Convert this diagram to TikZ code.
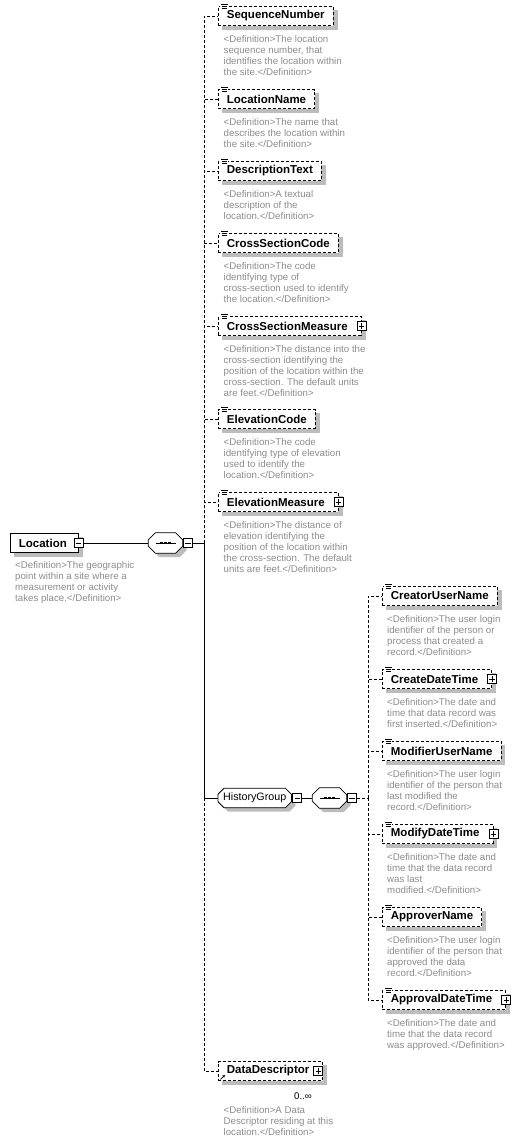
\documentclass[tikz,border=0pt]{standalone}
\usepackage{fontspec}
\setmainfont{Liberation Sans}
\usetikzlibrary{positioning,arrows.meta,backgrounds}
\definecolor{defgray}{RGB}{140,140,140}
\definecolor{shadowgray}{RGB}{188,188,188}
% octagon round a node: node, chamfer, x offset, y offset
\newcommand\octa[4]{([xshift=#3+#2,yshift=#4]#1.north west) -- ([xshift=#3-#2,yshift=#4]#1.north east)
-- ([xshift=#3,yshift=#4-#2]#1.north east) -- ([xshift=#3,yshift=#4+#2]#1.south east)
-- ([xshift=#3-#2,yshift=#4]#1.south east) -- ([xshift=#3+#2,yshift=#4]#1.south west)
-- ([xshift=#3,yshift=#4+#2]#1.south west) -- ([xshift=#3,yshift=#4-#2]#1.north west) -- cycle}
\begin{document}
\begin{tikzpicture}[x=1pt,y=-1pt,
elem/.style={
% The shape:
rectangle, minimum height=19pt, inner xsep=8.5pt, inner ysep=0pt,
% The border:
draw=black, line width=0.8pt, dash pattern=on 3pt off 2pt,
% The filling:
fill=white,
% Font
font=\fontsize{11.5}{13}\selectfont\bfseries, anchor=west
}, elemplus/.style={elem, execute at end node={\hspace*{5pt}}},
defn/.style={
anchor=north west, inner sep=0pt, align=left, text=defgray,
font=\fontsize{9.7}{11}\selectfont
}, pmbox/.style={
rectangle, draw=black, solid, line width=0.8pt, fill=white,
minimum size=9pt, inner sep=0pt
}, minusbox/.style={pmbox,
path picture={\draw[line width=0.8pt]
([xshift=1.8pt]path picture bounding box.west) --
([xshift=-1.8pt]path picture bounding box.east);}
}, plusbox/.style={pmbox,
path picture={\draw[line width=0.8pt]
([xshift=1.8pt]path picture bounding box.west) --
([xshift=-1.8pt]path picture bounding box.east)
([yshift=-1.8pt]path picture bounding box.north) --
([yshift=1.8pt]path picture bounding box.south);}
}, seqnode/.style={
rectangle, minimum width=34pt, minimum height=20pt, inner sep=0pt
}, groupnode/.style={
rectangle, minimum height=19pt, inner xsep=5pt, inner ysep=0pt,
font=\fontsize{10.7}{12}\selectfont, anchor=west
}, opt/.style={line width=0.8pt, dash pattern=on 3pt off 2pt},
req/.style={line width=0.8pt}]

\useasboundingbox (0,0) rectangle (517,1144);

% the root element
\node (loc) [elem, solid, execute at end node={\hspace*{3pt}}] at (10,543) {Location};
\node (locm) [minusbox] at (loc.east) {};
\node (locd) [defn] at ([xshift=5pt,yshift=-8pt]loc.south west) {<Definition>The geographic\\point within a site where a\\measurement or activity\\takes place.</Definition>};

\node (seq) [seqnode] at (165.5,543) {};
\node (seqm) [minusbox, anchor=west] at ([xshift=0.5pt]seq.east) {};
\coordinate (j) at (204,543);

% the children of the sequence
\node (sn) [elem] at (218,16) {SequenceNumber};
\node (ln) [elem] at (218,99) {LocationName};
\node (dt) [elem] at (218,171) {DescriptionText};
\node (csc) [elem] at (218,243) {CrossSectionCode};
\node (csm) [elemplus] at (218,326) {CrossSectionMeasure};
\node (ec) [elem] at (218,419) {ElevationCode};
\node (em) [elemplus] at (218,502) {ElevationMeasure};
\node (hg) [groupnode] at (218,798) {HistoryGroup};
\node (dd) [elemplus] at (218,1071) {DataDescriptor};

\node (csmp) [plusbox] at (csm.east) {};
\node (emp) [plusbox] at (em.east) {};
\node (ddp) [plusbox, anchor=east] at (dd.east) {};
\node (hgm) [minusbox, anchor=west] at ([xshift=1pt]hg.east) {};

\node (snd) [defn] at ([xshift=5.5pt,yshift=-9pt]sn.south west) {<Definition>The location\\sequence number, that\\identifies the location within\\the site.</Definition>};
\node (lnd) [defn] at ([xshift=5.5pt,yshift=-9pt]ln.south west) {<Definition>The name that\\describes the location within\\the site.</Definition>};
\node (dtd) [defn] at ([xshift=5.5pt,yshift=-9pt]dt.south west) {<Definition>A textual\\description of the\\location.</Definition>};
\node (cscd) [defn] at ([xshift=5.5pt,yshift=-9pt]csc.south west) {<Definition>The code\\identifying type of\\cross-section used to identify\\the location.</Definition>};
\node (csmd) [defn] at ([xshift=5.5pt,yshift=-9pt]csm.south west) {<Definition>The distance into the\\cross-section identifying the\\position of the location within the\\cross-section. The default units\\are feet.</Definition>};
\node (ecd) [defn] at ([xshift=5.5pt,yshift=-9pt]ec.south west) {<Definition>The code\\identifying type of elevation\\used to identify the\\location.</Definition>};
\node (emd) [defn] at ([xshift=5.5pt,yshift=-9pt]em.south west) {<Definition>The distance of\\elevation identifying the\\position of the location within\\the cross-section. The default\\units are feet.</Definition>};
\node (ddn) [anchor=base, inner sep=0pt, font=\fontsize{9.7}{11}\selectfont] at (303,1099) {0..∞};
\node (ddd) [defn] at ([xshift=5.5pt,yshift=-25pt]dd.south west) {<Definition>A Data\\Descriptor residing at this\\location.</Definition>};

% the history group
\node (hseq) [seqnode] at (329.5,798) {};
\node (hseqm) [minusbox, anchor=west] at ([xshift=0.5pt]hseq.east) {};
\coordinate (k) at (368,798);

\node (cun) [elem] at (382,596) {CreatorUserName};
\node (cdt) [elemplus] at (382,679) {CreateDateTime};
\node (mun) [elem] at (382,751) {ModifierUserName};
\node (mdt) [elemplus] at (382,834) {ModifyDateTime};
\node (aun) [elem] at (382,917) {ApproverName};
\node (adt) [elemplus] at (382,1000) {ApprovalDateTime};

\node (cdtp) [plusbox] at (cdt.east) {};
\node (mdtp) [plusbox] at (mdt.east) {};
\node (adtp) [plusbox] at (adt.east) {};

\node (cund) [defn] at ([xshift=5pt,yshift=-9pt]cun.south west) {<Definition>The user login\\identifier of the person or\\process that created a\\record.</Definition>};
\node (cdtd) [defn] at ([xshift=5pt,yshift=-9pt]cdt.south west) {<Definition>The date and\\time that data record was\\first inserted.</Definition>};
\node (mund) [defn] at ([xshift=5pt,yshift=-9pt]mun.south west) {<Definition>The user login\\identifier of the person that\\last modified the\\record.</Definition>};
\node (mdtd) [defn] at ([xshift=5pt,yshift=-9pt]mdt.south west) {<Definition>The date and\\time that the data record\\was last\\modified.</Definition>};
\node (aund) [defn] at ([xshift=5pt,yshift=-9pt]aun.south west) {<Definition>The user login\\identifier of the person that\\approved the data\\record.</Definition>};
\node (adtd) [defn] at ([xshift=5pt,yshift=-9pt]adt.south west) {<Definition>The date and\\time that the data record\\was approved.</Definition>};

% shadows, and the white inside of the octagons
\begin{pgfonlayer}{background}
\foreach \n in {loc,sn,ln,dt,csc,csm,ec,em,dd,cun,cdt,mun,mdt,aun,adt}
\fill[shadowgray] ([xshift=4pt,yshift=-4pt]\n.south west) rectangle ([xshift=4pt,yshift=-4pt]\n.north east);
\foreach \n/\c in {seq/7pt,hseq/7pt,hg/6pt} {
\fill[shadowgray] \octa{\n}{\c}{4pt}{-4pt};
\fill[white] \octa{\n}{\c}{0pt}{0pt};
}
\end{pgfonlayer}

% the octagons and their three dots
\foreach \n/\c in {seq/7pt,hseq/7pt,hg/6pt}
\draw[req] \octa{\n}{\c}{0pt}{0pt};
\foreach \n in {seq,hseq} {
\draw[req] ([xshift=-10pt]\n.center) -- ([xshift=10pt]\n.center);
\foreach \d in {-4,0,4}
\fill ([xshift=\d pt-1.4pt,yshift=-1.4pt]\n.center) rectangle ([xshift=\d pt+1.4pt,yshift=1.4pt]\n.center);
}

% the little content icons
\foreach \n in {sn,ln,dt,csc,csm,ec,em,cun,cdt,mun,mdt,aun,adt} {
\fill[white] ([xshift=2pt,yshift=2.5pt]\n.north west) rectangle ([xshift=10pt,yshift=-3.8pt]\n.north west);
\draw[line width=0.7pt] ([xshift=3pt,yshift=1.3pt]\n.north west) -- ([xshift=9.5pt,yshift=1.3pt]\n.north west)
([xshift=3.5pt,yshift=-0.7pt]\n.north west) -- ([xshift=9pt,yshift=-0.7pt]\n.north west)
([xshift=3.5pt,yshift=-2.7pt]\n.north west) -- ([xshift=9pt,yshift=-2.7pt]\n.north west);
}
\draw[line width=0.8pt, -{Stealth[length=3pt,width=3pt]}] ([xshift=2.5pt,yshift=1.5pt]dd.south west) -- ([xshift=7pt,yshift=6pt]dd.south west);

% the connectors
\path (locm) edge[req] (seq);
\path (seqm) edge[req] (j);
\foreach \n in {sn,ln,dt,csc,csm,ec,em,dd}
\draw[opt] (j) |- (\n.west);
\draw[req] (j) |- (hg.west);
\path (hgm) edge[req] (hseq);
\path (hseqm) edge[opt] (k);
\foreach \n in {cun,cdt,mun,mdt,aun,adt}
\draw[opt] (k) |- (\n.west);
\end{tikzpicture}
\end{document}
